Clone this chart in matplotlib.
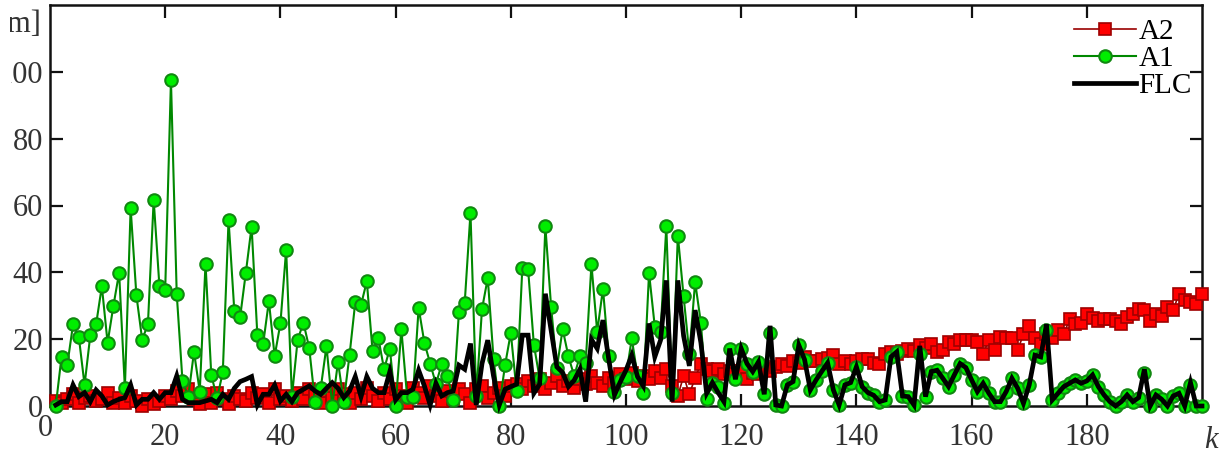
import numpy as np
import matplotlib
matplotlib.use("Agg")
import matplotlib.pyplot as plt
from matplotlib.transforms import Bbox

plt.rcParams['font.family'] = ['Liberation Serif', 'DejaVu Serif']

# A1 (green circles), k = 1..200
a1 = [0, 14.7, 12.2, 24.4, 20.7, 6.3, 21.2, 24.4, 35.8, 18.9,
      29.9, 39.9, 5.3, 59.2, 33.1, 19.9, 24.4, 61.7, 35.8, 34.8,
      97.5, 33.6, 7.5, 2.8, 16.2, 4.3, 42.6, 9.3, 2.3, 10.1,
      55.7, 28.5, 26.5, 39.9, 53.7, 21.2, 18.5, 31.4, 14.9, 24.7,
      46.8, 2.8, 19.9, 24.9, 17.4, 1.3, 5.3, 17.9, 0, 13.2,
      1.3, 15.2, 31.1, 30.3, 37.3, 16.4, 20.4, 11.0, 17.2, 0,
      22.9, 2.8, 2.8, 29.4, 18.9, 12.7, 6.6, 12.5, 9.0, 1.8,
      28.2, 30.9, 57.8, 3.0, 29.0, 38.3, 14.2, 0, 12.2, 21.9,
      4.6, 41.3, 41.0, 18.4, 8.3, 53.8, 29.6, 11.4, 23.0, 14.9,
      9.0, 14.9, 12.9, 42.4, 22.2, 35.1, 14.9, 4.1, 7.8, 8.8,
      20.2, 9.0, 4.0, 39.8, 23.7, 22.2, 53.8, 3.8, 51.0, 32.8,
      15.7, 37.1, 24.9, 2.1, 6.8, 5.8, 1.0, 17.2, 8.0, 17.2,
      12.7, 10.3, 13.2, 3.5, 21.9, 0.3, 0, 6.3, 7.3, 18.2,
      13.9, 4.8, 7.8, 10.4, 12.9, 4.8, 0.3, 6.3, 7.0, 11.7,
      5.8, 4.0, 3.2, 1.3, 1.8, 14.7, 16.2, 3.0, 2.8, 0.3,
      15.7, 2.8, 10.3, 10.7, 8.3, 5.8, 9.3, 12.7, 11.5, 7.8,
      4.3, 6.8, 3.8, 1.3, 1.3, 4.3, 8.3, 5.3, 0.8, 6.3,
      15.2, 14.7, 22.7, 1.8, 3.8, 5.8, 6.8, 7.8, 6.8, 7.5,
      9.3, 5.8, 3.3, 1.3, 0, 1.3, 3.3, 1.3, 2.5, 9.8,
      0, 3.3, 2.0, 0, 3.0, 3.8, 0, 6.3, 0, 0]

# A2 (red squares)
a2 = [1.5, 1.0, 2.0, 3.5, 1.0, 2.5, 3.0, 1.5, 2.0, 4.0,
      1.0, 2.5, 1.0, 3.0, 1.5, 0, 2.0, 0.5, 1.5, 3.0,
      2.0, 4.5, 3.0, 5.0, 2.0, 0.5, 3.5, 1.0, 4.0, 2.0,
      0.5, 3.0, 2.0, 1.5, 4.0, 2.5, 3.5, 1.0, 5.0, 2.0,
      3.0, 1.5, 4.0, 2.0, 5.0, 3.0, 1.0, 4.5, 2.5, 5.0,
      3.5, 1.0, 4.0, 2.0, 5.5, 3.0, 1.5, 4.0, 2.0, 5.0,
      3.0, 1.0, 5.5, 4.0, 2.5, 6.0, 3.0, 1.5, 4.5, 2.0,
      5.0, 3.5, 1.0, 5.0, 6.0, 2.5, 4.0, 5.5, 3.0, 6.0,
      6.5, 5.0, 7.5, 6.0, 8.0, 5.0, 7.0, 9.0, 6.0, 7.5,
      5.5, 8.0, 6.5, 9.0, 7.0, 6.0, 8.5, 7.0, 9.5, 8.0,
      10.0, 7.5, 9.0, 8.0, 10.5, 8.5, 11.0, 6.0, 3.0, 9.0,
      3.5, 8.5, 12.5, 11.0, 10.5, 11.0, 9.5, 10.5, 9.5, 10.5,
      8.0, 10.0, 9.5, 11.0, 10.5, 11.7, 12.5, 12.0, 13.5, 13.0,
      14.7, 13.5, 13.5, 14.0, 14.5, 15.2, 12.7, 13.5, 12.7, 13.5,
      14.0, 14.2, 13.0, 12.7, 15.7, 16.2, 15.5, 16.5, 17.2, 16.5,
      18.2, 17.5, 18.7, 16.2, 16.7, 19.2, 18.5, 19.7, 19.7, 19.7,
      19.2, 15.7, 19.7, 16.7, 20.7, 20.2, 20.4, 16.7, 21.5, 24.0,
      20.2, 18.7, 21.5, 20.2, 22.7, 21.5, 25.9, 24.6, 24.9, 27.6,
      26.4, 25.4, 26.0, 26.0, 25.4, 24.4, 26.7, 27.6, 28.9, 28.7,
      25.4, 27.6, 27.0, 29.6, 28.7, 33.6, 31.6, 31.1, 30.4, 33.6]

# FLC (black line)
flc = [0.3, 1.3, 1.3, 6.3, 2.8, 4.0, 1.3, 4.8, 3.0, 0.3,
       1.3, 2.0, 2.5, 6.3, 0.3, 2.0, 2.0, 4.0, 2.0, 4.0,
       4.0, 9.0, 2.0, 1.0, 1.0, 1.0, 1.5, 2.0, 1.0, 3.5,
       2.0, 5.3, 7.3, 8.0, 8.8, 0.3, 3.5, 3.5, 6.3, 1.5,
       3.5, 1.3, 4.0, 5.0, 6.0, 4.5, 3.5, 5.3, 7.0, 5.3,
       2.5, 4.5, 8.8, 2.8, 8.8, 5.3, 4.0, 4.0, 10.3, 1.8,
       4.0, 4.0, 5.0, 10.7, 6.0, 0.3, 6.8, 3.0, 4.0, 4.5,
       12.2, 11.0, 18.7, 0.3, 12.7, 19.7, 9.0, 0.3, 5.0, 5.8,
       6.5, 21.2, 21.2, 3.8, 6.5, 33.6, 22.7, 11.7, 10.0, 5.8,
       7.7, 11.0, 1.3, 19.9, 17.2, 25.7, 14.0, 3.3, 7.2, 10.7,
       15.2, 8.8, 6.0, 24.7, 14.7, 19.7, 37.6, 1.3, 37.6, 21.0,
       12.0, 28.7, 19.0, 3.8, 7.0, 4.0, 1.3, 17.2, 8.0, 17.2,
       12.7, 10.3, 13.2, 3.5, 24.0, 0.3, 0, 6.3, 7.3, 18.2,
       13.9, 4.8, 7.8, 10.4, 12.9, 4.8, 0.3, 6.3, 7.0, 11.7,
       5.8, 4.0, 3.2, 1.3, 1.8, 14.7, 16.2, 3.0, 2.8, 0.3,
       18.0, 2.8, 10.3, 10.7, 8.3, 5.8, 9.3, 12.7, 11.5, 7.8,
       4.3, 6.8, 3.8, 1.3, 1.3, 4.3, 8.3, 5.3, 0.8, 6.3,
       15.2, 14.7, 24.5, 1.8, 3.8, 5.8, 6.8, 7.8, 6.8, 7.5,
       9.3, 5.8, 3.3, 1.3, 0, 1.3, 3.3, 1.3, 2.5, 11.0,
       0, 3.3, 2.0, 0, 3.0, 3.8, 0, 7.0, 0, 0]

xticks = [20, 40, 60, 80, 100, 120, 140, 160, 180]
yticks = [0, 20, 40, 60, 80, 100]

k = np.arange(1, len(a1) + 1)

fig = plt.figure(figsize=(12.26, 4.53), dpi=100)
ax = fig.add_axes([50 / 1226, 47 / 453, 1152 / 1226, 401 / 453])

ax.plot(k, a2, color='#990000', lw=1.2, marker='s', ms=8, mfc='#ff0000',
        mec='#a00000', mew=1.2, clip_on=False, label='A2', zorder=3)
ax.plot(k, a1, color='#008800', lw=1.5, marker='o', ms=9, mfc='#00ee00',
        mec='#118811', mew=1.5, clip_on=False, label='A1', zorder=4)
ax.plot(k, flc, color='black', lw=3.4, solid_joinstyle='miter',
        clip_on=False, label='FLC', zorder=5)

ax.set_xlim(0, 200)
ax.set_ylim(0, 120)

for s in ax.spines.values():
    s.set_linewidth(1.8)
    s.set_color('#111111')

ax.set_xticks(xticks)
ax.set_xticklabels([str(v) for v in xticks])
ax.set_yticks(yticks)
ax.set_yticklabels([str(v) for v in yticks])
ax.tick_params(direction='in', length=9, width=1.6, colors='#111111',
               top=True, right=True, labelsize=22, labelcolor='#333333')
ax.tick_params(axis='x', pad=12)
ax.tick_params(axis='y', pad=5)

ax.text(-0.8, -2.5, '0', ha='center', va='top', fontsize=22, color='#333333',
        clip_on=False)
ax.text(201.5, -6, 'k', ha='center', va='top', fontsize=22, style='italic',
        color='#333333')

# left edge of the labels is trimmed
edge = Bbox.from_extents(11, 0, 1226, 453)
unit = fig.text(42 / 1226, 1 - 25 / 453, '[m]', ha='right', va='center',
                fontsize=22, color='#333333')
unit.set_clip_box(Bbox.from_extents(10, 0, 1226, 453))
unit.set_clip_on(True)
fig.canvas.draw()
for lab in ax.get_yticklabels():
    lab.set_clip_box(edge)
    lab.set_clip_on(True)

ax.legend(loc='upper right', bbox_to_anchor=(1192 / 1226, 1 - 19 / 453),
          bbox_transform=fig.transFigure, frameon=False, fontsize=21,
          handlelength=2.1, handletextpad=0.1, labelspacing=0.02,
          numpoints=1, borderaxespad=0, borderpad=0)

fig.savefig('out.png', dpi=100)
